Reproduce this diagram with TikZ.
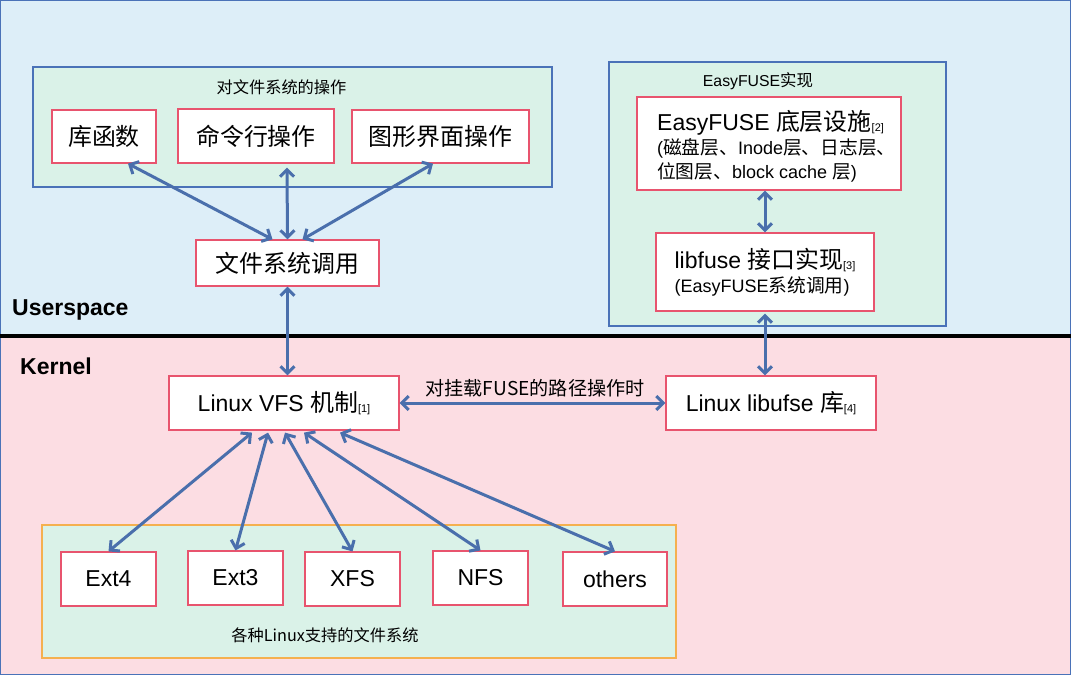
\documentclass[tikz,border=0pt]{standalone}
\usepackage{fontspec}
\setmainfont{Liberation Sans}
\newfontfamily\zhfont[Scale=1.04]{Noto Sans CJK SC}
\usepackage{xcolor}
\definecolor{topbg}{HTML}{DDEEF8}
\definecolor{botbg}{HTML}{FCDDE3}
\definecolor{grpfill}{HTML}{DAF2E8}
\definecolor{grpblue}{HTML}{4A72B8}
\definecolor{grporange}{HTML}{F5B04F}
\definecolor{boxred}{HTML}{E8546E}
\definecolor{arrblue}{HTML}{4A6FAC}
\usepackage{tikz}
\usetikzlibrary{arrows.meta, positioning}
\newcommand{\zhtxt}[1]{{\zhfont #1}}
\newcommand{\bigtxt}{\fontsize{23}{27}\selectfont}
\newcommand{\midtxt}{\fontsize{18}{23}\selectfont}
\newcommand{\smalltxt}{\fontsize{15.6}{18}\selectfont}
\newcommand{\refmark}[1]{{\fontsize{11}{11}\selectfont\raisebox{-1pt}{[#1]}}}
\tikzset{
    group/.style={
        draw=grpblue, fill=grpfill, line width=1.2pt,
        inner sep=0pt
    },
    fsbox/.style={
        draw=boxred, fill=white, line width=1.2pt,
        inner sep=0pt, align=center,
        font=\bigtxt
    },
    conn/.style={
        line width=3pt, arrblue,
        {Straight Barb[length=7pt,width=14pt]}-{Straight Barb[length=7pt,width=14pt]}
    },
    grptitle/.style={font=\smalltxt, inner sep=0pt},
    space/.style={font=\bfseries\fontsize{23}{26}\selectfont, inner sep=0pt, anchor=west},
}

\begin{document}
\begin{tikzpicture}[x=1pt, y=-1pt]
        \useasboundingbox (0,0) rectangle (1071,675);
        % user space and kernel
        \fill[topbg] (0,0) rectangle (1071,336);
        \fill[botbg] (0,336) rectangle (1071,675);
        \draw[grpblue, line width=1.2pt] (0.6,0.6) rectangle (1070.4,674.4);
        \draw[black, line width=4pt] (0,336) -- (1071,336);
        \node[space] (user) at (12,310) {Userspace};
        \node[space] (kern) at (20,366) {Kernel};

        % operations on the file system
        \node[group, minimum width=519pt, minimum height=120pt] (ops) at (292.5,127) {};
        \node[grptitle] (opstitle) at (281.5,87) {\zhtxt{对文件系统的操作}};
        \node[fsbox, minimum width=104pt, minimum height=53pt] (lib) at (104,136.5) {\zhtxt{库函数}};
        \node[fsbox, minimum width=156pt, minimum height=54pt] (cmd) at (256,136) {\zhtxt{命令行操作}};
        \node[fsbox, minimum width=177pt, minimum height=53pt] (gui) at (440.5,136.5) {\zhtxt{图形界面操作}};
        \node[fsbox, minimum width=183pt, minimum height=46pt] (call) at (287.5,263) {\zhtxt{文件系统调用}};

        % EasyFUSE
        \node[group, minimum width=337pt, minimum height=264pt] (easy) at (777.5,194) {};
        \node[grptitle, font=\fontsize{15.8}{18}\selectfont] (easytitle) at (758,81) {EasyFUSE\zhtxt{实现}};
        \node[fsbox, minimum width=264pt, minimum height=93pt] (base) at (769,143.5) {};
        \node[font=\bigtxt, align=left, inner sep=0pt, anchor=west] (basetext) at (657,146)
            {EasyFUSE \zhtxt{底层设施}\refmark{2}\\[-3pt]
             {\midtxt(\zhtxt{磁盘层、}Inode\zhtxt{层、日志层、}}\\[-3pt]
             {\midtxt\zhtxt{位图层、}block cache \zhtxt{层})}};
        \node[fsbox, align=left, minimum width=218pt, minimum height=78pt] (iface) at (765,272)
            {libfuse \zhtxt{接口实现}\refmark{3}\\[-3pt]
             {\midtxt(EasyFUSE\zhtxt{系统调用})}};

        % kernel side
        \node[fsbox, minimum width=230pt, minimum height=54pt] (vfs) at (284,403) {Linux VFS \zhtxt{机制}\refmark{1}};
        \node[fsbox, minimum width=210pt, minimum height=54pt] (fuse) at (771,403) {Linux libufse \zhtxt{库}\refmark{4}};
        \node[font=\fontsize{18.4}{21}\selectfont, inner sep=0pt] (mountlbl) at (535,388) {\zhtxt{对挂载FUSE的路径操作时}};

        % supported file systems
        \node[group, draw=grporange, minimum width=634pt, minimum height=133pt] (fslist) at (359,591.5) {};
        \node[grptitle] (fstitle) at (325,635) {\zhtxt{各种Linux支持的文件系统}};
        \node[fsbox, minimum width=95pt, minimum height=54pt] (ext4) at (108.5,579) {Ext4};
        \node[fsbox, minimum width=95pt, minimum height=54pt] (ext3) at (235.5,578) {Ext3};
        \node[fsbox, minimum width=95pt, minimum height=54pt] (xfs) at (352.5,579) {XFS};
        \node[fsbox, minimum width=95pt, minimum height=54pt] (nfs) at (480.5,578) {NFS};
        \node[fsbox, minimum width=104pt, minimum height=54pt] (others) at (615,579) {others};

        % connectors
        \draw[conn] ([xshift=24pt]lib.south) -- ([xshift=-15pt]call.north);
        \draw[conn] ([xshift=31pt, yshift=-4pt]cmd.south) -- (call.north);
        \draw[conn] ([xshift=-7.5pt]gui.south) -- ([xshift=15pt]call.north);
        \draw[conn] (call.south) -- (call.south |- vfs.north);
        \draw[conn] ([xshift=-4pt]base.south) -- ([xshift=-4pt]base.south |- iface.north);
        \draw[conn] ([yshift=-2pt]iface.south -| fuse.north) ++(-6pt,0) -- ([xshift=-6pt]fuse.north);
        \draw[conn] (vfs.east) -- (fuse.west);
        \foreach \dx/\fs in {-32/ext4, -16/ext3, 1/xfs, 20/nfs, 56/others}
            \draw[conn] ([xshift=\dx pt, yshift=-2pt]vfs.south) -- (\fs.north);
\end{tikzpicture}
\end{document}
